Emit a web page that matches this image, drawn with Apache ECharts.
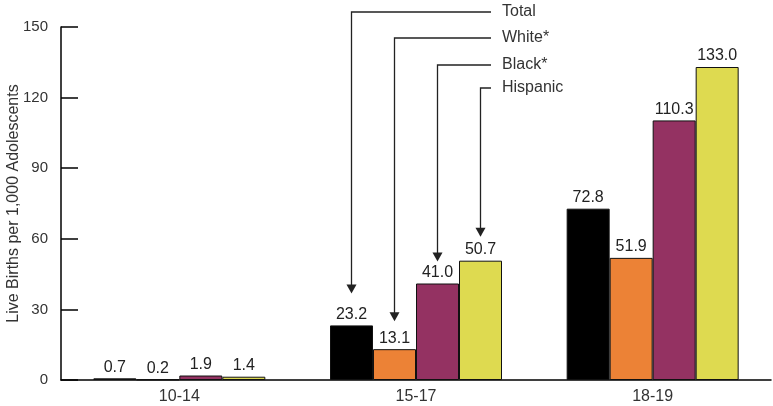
<!DOCTYPE html>
<html><head><meta charset="utf-8">
<script src="https://cdn.jsdelivr.net/npm/echarts@6/dist/echarts.min.js"></script>
<style>html,body{margin:0;padding:0;background:#fff}#c{width:773px;height:406px}</style>
</head><body><div id="c"></div>
<script>
const categories = ['10-14', '15-17', '18-19'];
const seriesNames = ['Total', 'White*', 'Black*', 'Hispanic'];
const total = [0.7, 23.2, 72.8];
const white = [0.2, 13.1, 51.9];
const black = [1.9, 41.0, 110.3];
const hispanic = [1.4, 50.7, 133.0];
const yTicks = [0, 30, 60, 90, 120, 150];

const colors = ['#000000', '#EC8236', '#943262', '#DEDA50'];
const values = [total, white, black, hispanic];
const font = 'Liberation Sans, Arial, sans-serif';

const chart = echarts.init(document.getElementById('c'));
chart.setOption({
  animation: false,
  grid: {left: 61, right: 2, top: 27, bottom: 26, containLabel: false, outerBoundsMode: 'none'},
  xAxis: {
    type: 'category', data: categories,
    axisLine: {lineStyle: {color: '#000', width: 1.5}},
    axisTick: {inside: true, length: 10, lineStyle: {color: '#000', width: 1.5}},
    axisLabel: {fontSize: 16, color: '#333', margin: 9, fontFamily: font}
  },
  yAxis: {
    type: 'value', min: yTicks[0], max: yTicks[yTicks.length - 1], interval: 30,
    name: 'Live Births per 1,000 Adolescents', nameLocation: 'middle', nameGap: 39,
    nameMoveOverlap: false,
    nameTextStyle: {fontSize: 16, color: '#333', fontFamily: font},
    axisLine: {show: true, lineStyle: {color: '#000', width: 1.5}},
    axisTick: {show: true, inside: true, length: 17, lineStyle: {color: '#000', width: 1.5}},
    axisLabel: {fontSize: 15, color: '#333', margin: 13, fontFamily: font, padding: [7, 0, 0, 0]},
    splitLine: {show: false}
  },
  series: seriesNames.map((n, i) => ({
    name: n, type: 'bar', data: values[i], barWidth: 43, barGap: '0%',
    itemStyle: {color: colors[i], borderColor: '#111', borderWidth: 1},
    label: {show: true, position: 'top', distance: 3, fontSize: 16, color: '#222', fontFamily: font,
      formatter: p => p.value.toFixed(1)}
  }))
});

// Annotation arrows pointing at the 15-17 group
const lineYs = [12, 38, 65, 88];
const tipOffsets = [32, 28, 22, 24];
const elbowX = 491;
const g = [];
const cx = chart.convertToPixel({xAxisIndex: 0}, categories[1]);
seriesNames.forEach((n, i) => {
  const x = cx + 43 * (i - 1.5);
  const top = chart.convertToPixel({yAxisIndex: 0}, values[i][1]);
  const tip = top - tipOffsets[i];
  g.push({type: 'polyline', shape: {points: [[elbowX, lineYs[i]], [x, lineYs[i]], [x, tip - 6]]},
    style: {stroke: '#222', lineWidth: 1.3, fill: null}});
  g.push({type: 'polygon', shape: {points: [[x - 5, tip - 9], [x + 5, tip - 9], [x, tip]]},
    style: {fill: '#222'}});
  g.push({type: 'text', x: 502, y: lineYs[i], style: {text: n, fontSize: 16, fill: '#333',
    fontFamily: font, verticalAlign: 'middle', align: 'left'}});
});
chart.setOption({graphic: g});
</script></body></html>
